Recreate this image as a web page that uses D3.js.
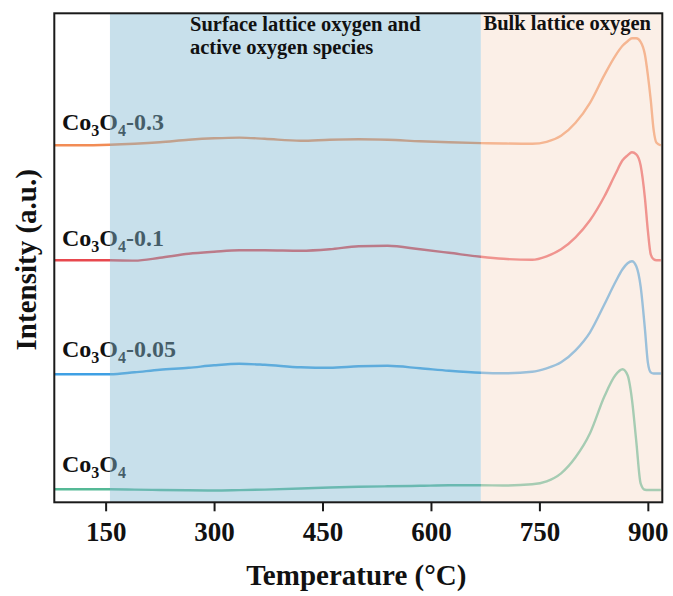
<!DOCTYPE html>
<html>
<head>
<meta charset="utf-8">
<script src="https://cdn.jsdelivr.net/npm/d3@7/dist/d3.min.js"></script>
<style>
  html, body { margin: 0; padding: 0; background: #fff; }
  svg { display: block; }
  text { font-family: "Liberation Serif", "Times New Roman", serif; font-weight: bold; }
</style>
</head>
<body>
<svg id="chart" width="673" height="596"></svg>
<script>
// Temperature grid (°C) shared by all TPR traces
const temps = [80, 110, 156, 190, 225, 265, 300, 335, 370, 420, 460, 500, 540, 585, 625, 669,
               700, 740, 760, 780, 800, 820, 840, 855, 865, 872, 878, 884, 890, 896, 900, 904, 908, 912, 918];

// H2 consumption signal (a.u.) above each trace's own baseline
const sig03  = [0, 0, 0.5, 1.5, 3, 5.5, 7, 7.7, 6.5, 4.5, 5.5, 6, 5.5, 4, 3, 2.2,
                1.8, 1.5, 3.5, 9.5, 22.5, 42.5, 70.5, 89.5, 99.5, 104, 107, 107, 103.5, 90.5, 70.5, 45.5, 15.5, 2.5, 0];
const sig01  = [0, 0, 0, -0.3, 2.5, 6.5, 8.5, 10, 10, 9.5, 11, 14, 14.5, 11, 7.5, 3.5,
                1.5, 0.5, 4, 11, 23, 40, 64, 86, 100, 105, 108, 106, 95, 62, 30, 6, 1, 0, 0];
const sig005 = [0, 0, 0, 2, 4.5, 6.5, 9, 10.5, 9.5, 7, 6.5, 8, 8.5, 6, 3.5, 1.5,
                1, 2.5, 6, 12, 24, 42, 70, 92, 105, 111, 113, 108, 88, 45, 12, 2, 0.8, 0.8, 0.8];
const sig0   = [0, 0, 0, -0.3, -0.7, -1, -1.2, -0.8, -0.3, 0.8, 1.8, 2.5, 3, 3.5, 4, 4,
                3.8, 5, 8, 16, 32, 56, 93, 114, 120, 114, 90, 48, 6, -0.5, -0.7, -0.7, -0.7, -0.7, -0.7];

// Samples, vertical stacking offsets (a.u.) and colours
const names   = [["Co", "3", "O", "4", "-0.3"], ["Co", "3", "O", "4", "-0.1"],
                 ["Co", "3", "O", "4", "-0.05"], ["Co", "3", "O", "4", ""]];
const signals = [sig03, sig01, sig005, sig0];
const offsets = [357, 242, 128, 13];
const colors  = ["#f28c55", "#e8484e", "#3fa0e4", "#55b996"];

// Temperature regions
const surfaceRange = [156, 669];
const bulkRange    = [669, 920];
const xTicks = [150, 300, 450, 600, 750, 900];

const svg = d3.select("#chart");
const W = 673, H = 596;
const margin = { left: 54.3, right: 10.7, top: 13.3, bottom: 93.7 };
const iw = W - margin.left - margin.right;
const ih = H - margin.top - margin.bottom;

const x = d3.scaleLinear().domain([79, 920]).range([0, iw]);
const y = d3.scaleLinear().domain([0, 489]).range([ih, 0]);

const g = svg.append("g").attr("transform", `translate(${margin.left},${margin.top})`);

const defs = svg.append("defs");
defs.append("clipPath").attr("id", "plotclip")
  .append("rect").attr("width", iw).attr("height", ih);

// Traces
const line = d3.line()
  .x(d => x(d[0]))
  .y(d => y(d[1]))
  .curve(d3.curveMonotoneX);

const traces = g.append("g").attr("clip-path", "url(#plotclip)");
signals.forEach((s, i) => {
  const pts = temps.map((t, k) => [t, s[k] + offsets[i]]);
  traces.append("path")
    .datum(pts)
    .attr("d", line)
    .attr("fill", "none")
    .attr("stroke", colors[i])
    .attr("stroke-width", 2.4)
    .attr("stroke-linejoin", "round");
});

// Sample labels
const labelLift = [15.5, 13.8, 17.6, 17.5];
names.forEach((parts, i) => {
  const t = g.append("text")
    .attr("x", 62 - margin.left)
    .attr("y", y(offsets[i]) - labelLift[i])
    .style("font-size", "24px")
    .attr("fill", "#111");
  t.append("tspan").text(parts[0]);
  t.append("tspan").style("font-size", "16px").attr("dy", 6).text(parts[1]);
  t.append("tspan").attr("dy", -6).text(parts[2]);
  t.append("tspan").style("font-size", "16px").attr("dy", 6).text(parts[3]);
  if (parts[4]) t.append("tspan").attr("dy", -6).text(parts[4]);
});

// Shaded temperature regions (translucent, over traces and labels)
g.append("rect")
  .attr("x", x(surfaceRange[0])).attr("y", 0)
  .attr("width", x(surfaceRange[1]) - x(surfaceRange[0])).attr("height", ih)
  .attr("fill", "rgb(134,187,211)").attr("fill-opacity", 0.45);
g.append("rect")
  .attr("x", x(bulkRange[0])).attr("y", 0)
  .attr("width", x(bulkRange[1]) - x(bulkRange[0])).attr("height", ih)
  .attr("fill", "rgb(247,223,207)").attr("fill-opacity", 0.5);

// Region captions
const cap1 = g.append("text").style("font-size", "20.5px").attr("fill", "#111");
cap1.append("tspan").attr("x", 190 - margin.left).attr("y", 31 - margin.top).text("Surface lattice oxygen and");
cap1.append("tspan").attr("x", 190 - margin.left).attr("y", 54.3 - margin.top).text("active oxygen species");
g.append("text").style("font-size", "20.5px").attr("fill", "#111")
  .attr("x", 483.5 - margin.left).attr("y", 30 - margin.top)
  .text("Bulk lattice oxygen");

// Frame
g.append("rect")
  .attr("width", iw).attr("height", ih)
  .attr("fill", "none").attr("stroke", "#1a1a1a").attr("stroke-width", 2);

// X axis
const xAxis = g.append("g")
  .attr("transform", `translate(0,${ih})`)
  .call(d3.axisBottom(x).tickValues(xTicks).tickSize(9).tickFormat(d3.format("d")));
xAxis.attr("font-family", null).attr("font-size", null);
xAxis.select(".domain").remove();
xAxis.selectAll(".tick line").attr("stroke", "#1a1a1a").attr("stroke-width", 2);
xAxis.selectAll(".tick text")
  .attr("y", 38.4).attr("dy", 0)
  .style("font-size", "27px")
  .style("font-family", "'Liberation Serif', 'Times New Roman', serif")
  .style("font-weight", "bold")
  .attr("fill", "#111");

// Axis titles
g.append("text")
  .attr("x", iw / 2 - 2).attr("y", 585 - margin.top)
  .attr("text-anchor", "middle").style("font-size", "29px").attr("fill", "#111")
  .text("Temperature (°C)");
g.append("text")
  .attr("transform", `translate(${36 - margin.left},${ih / 2 + 2}) rotate(-90)`)
  .attr("text-anchor", "middle").style("font-size", "29px").attr("fill", "#111")
  .text("Intensity (a.u.)");
</script>
</body>
</html>
